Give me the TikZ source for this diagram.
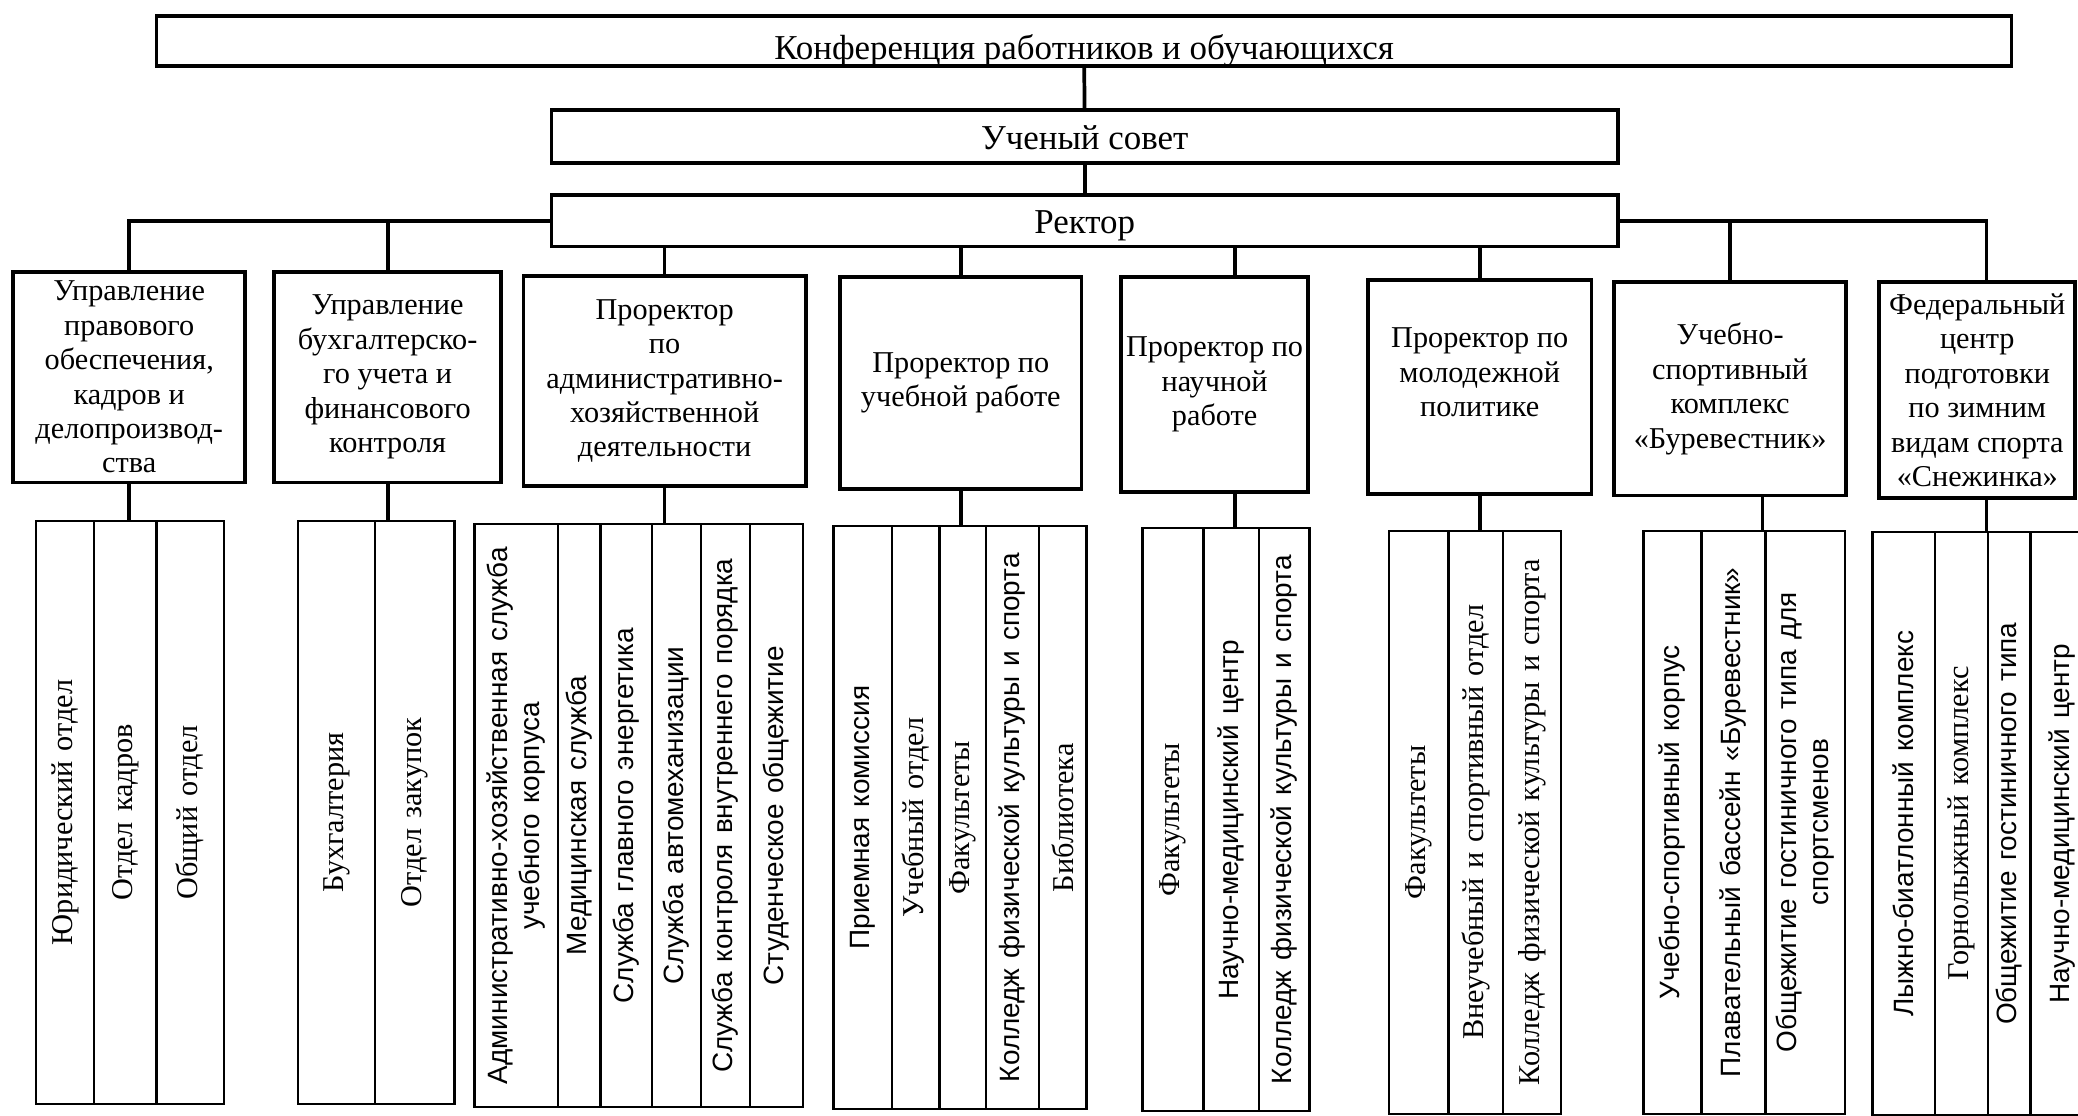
\documentclass[tikz,border=0pt]{standalone}
\usepackage{fontspec}
\setmainfont{Liberation Serif}
\setsansfont{Liberation Sans}
\newcommand{\colsf}{\sffamily\fontsize{12}{13.5}\selectfont}
\tikzset{orgbox/.style={draw, line width=1.6pt, inner sep=0pt, outer sep=0pt, align=center, font=\fontsize{13}{14.8}\selectfont},
headbox/.style={orgbox, minimum width=16.1cm, text height=0.4cm, text depth=0cm, font=\fontsize{15}{17}\selectfont},
col/.style={draw, line width=1.1pt, rotate=90, inner sep=1pt, outer sep=0pt, align=center, text width=8.4cm, minimum width=8.8cm, font=\fontsize{13}{14}\selectfont},
link/.style={line width=1.6pt}}

\begin{document}
\begin{tikzpicture}[x=0.02cm, y=-0.02cm]

\useasboundingbox (0,0) rectangle (1568,842);
\clip (0,0) rectangle (1568,842);

% верхний уровень
\node[headbox, minimum width=28cm, minimum height=0.76cm, text height=0.56cm] (konf) at (818,31) {Конференция работников и обучающихся};
\node[headbox, minimum height=0.8cm] (sovet) at (818.5,103) {Ученый совет};
\node[headbox, minimum height=0.78cm] (rektor) at (818.5,166.5) {Ректор};

% подчиненные руководителю
\node[orgbox, minimum width=3.5cm, minimum height=3.18cm] (b1) at (97.5,284.5) {Управление\\правового\\обеспечения,\\кадров и\\делопроизвод-\\ства};
\node[orgbox, minimum width=3.42cm, minimum height=3.18cm] (b2) at (292.5,284.5) {Управление\\бухгалтерско-\\го учета и\\финансового\\контроля};
\node[orgbox, minimum width=4.26cm, minimum height=3.18cm] (b3) at (501.5,287.5) {Проректор\\по\\административно-\\хозяйственной\\деятельности};
\node[orgbox, minimum width=3.64cm, minimum height=3.2cm] (b4) at (725,289) {Проректор по\\учебной работе};
\node[orgbox, minimum width=2.82cm, minimum height=3.24cm] (b5) at (916.5,290) {Проректор по\\научной\\работе};
\node[orgbox, minimum width=3.38cm, minimum height=3.24cm] (b6) at (1116.5,292) {Проректор по\\молодежной\\политике\\[-0.08cm]};
\node[orgbox, minimum width=3.5cm, minimum height=3.22cm] (b7) at (1305.5,293.5) {Учебно-\\спортивный\\комплекс\\«Буревестник»};
\node[orgbox, minimum width=2.96cm, minimum height=3.26cm] (b8) at (1492,294.5) {Федеральный\\центр\\подготовки\\по зимним\\видам спорта\\«Снежинка»};

% отделы
\foreach \nm/\xa/\xb/\txt in {a/27/71/{Юридический отдел},
    b/71/118/{Отдел кадров},
    c/118/169/{Общий отдел}}
  \node[col, minimum height=(\xb-\xa)*0.02cm] (g1\nm) at ({(\xa+\xb)/2},613) {\txt};

\foreach \nm/\xa/\xb/\txt in {a/225/283/{Бухгалтерия},
    b/283/343/{Отдел закупок}}
  \node[col, minimum height=(\xb-\xa)*0.02cm] (g2\nm) at ({(\xa+\xb)/2},613) {\txt};

\foreach \nm/\xa/\xb/\txt in {a/358/421/{\colsf Административно-хозяйственная служба\\учебного корпуса},
    b/421/453/{\colsf Медицинская служба},
    c/453/492/{\colsf Служба главного энергетика},
    d/492/529/{\colsf Служба автомеханизации},
    e/529/566/{\colsf Служба контроля внутреннего порядка},
    f/566/606/{\colsf Студенческое общежитие}}
  \node[col, minimum height=(\xb-\xa)*0.02cm] (g3\nm) at ({(\xa+\xb)/2},615.5) {\txt};

\foreach \nm/\xa/\xb/\txt in {a/629/673/{\colsf Приемная комиссия},
    b/673/709/{Учебный отдел},
    c/709/744/{Факультеты},
    d/744/784/{\colsf Колледж физической культуры и спорта},
    e/784/820/{Библиотека}}
  \node[col, minimum height=(\xb-\xa)*0.02cm] (g4\nm) at ({(\xa+\xb)/2},617) {\txt};

\foreach \nm/\xa/\xb/\txt in {a/862/908/{Факультеты},
    b/908/950/{\colsf Научно-медицинский центр},
    c/950/988/{\colsf Колледж физической культуры и спорта}}
  \node[col, minimum height=(\xb-\xa)*0.02cm] (g5\nm) at ({(\xa+\xb)/2},618.5) {\txt};

\foreach \nm/\xa/\xb/\txt in {a/1048/1093/{Факультеты},
    b/1093/1134/{Внеучебный и спортивный отдел},
    c/1134/1178/{Колледж физической культуры и спорта}}
  \node[col, minimum height=(\xb-\xa)*0.02cm] (g6\nm) at ({(\xa+\xb)/2},620.5) {\txt};

\foreach \nm/\xa/\xb/\txt in {a/1240/1284/{\colsf Учебно-спортивный корпус},
    b/1284/1332/{\colsf Плавательный бассейн «Буревестник»},
    c/1332/1392/{\colsf Общежитие гостиничного типа для\\спортсменов}}
  \node[col, minimum height=(\xb-\xa)*0.02cm] (g7\nm) at ({(\xa+\xb)/2},620.5) {\txt};

\foreach \nm/\xa/\xb/\txt in {a/1413/1460/{\colsf Лыжно-биатлонный комплекс},
    b/1460/1500/{Горнолыжный комплекс},
    c/1500/1532/{\colsf Общежитие гостиничного типа},
    d/1532/1580/{\colsf Научно-медицинский центр}}
  \node[col, minimum height=(\xb-\xa)*0.02cm] (g8\nm) at ({(\xa+\xb)/2},621.5) {\txt};

\coordinate (c5) at (932,0);
\coordinate (c7) at (1330,0);
\coordinate (c8) at (1499,0);

% связи
\draw[link] (konf) -- (sovet);
\draw[link] (sovet) -- (rektor);
\draw[link] (rektor.west) -| (b1.north);
\draw[link] (rektor.west -| b2.north) -- (b2.north);
\draw[link] (rektor.south -| b3.north) -- (b3.north);
\draw[link] (rektor.south -| b4.north) -- (b4.north);
\draw[link] (rektor.south -| c5) -- (b5.north -| c5);
\draw[link] (rektor.south -| b6.north) -- (b6.north);
\draw[link] (rektor.east) -| (b8.north -| c8);
\draw[link] (rektor.east -| b7.north) -- (b7.north);

\draw[link] (b1.south) -- (b1.south |- g1a.east);
\draw[link] (b2.south) -- (b2.south |- g2a.east);
\draw[link] (b3.south) -- (b3.south |- g3a.east);
\draw[link] (b4.south) -- (b4.south |- g4a.east);
\draw[link] (b5.south -| c5) -- (c5 |- g5a.east);
\draw[link] (b6.south) -- (b6.south |- g6a.east);
\draw[link] (b7.south -| c7) -- (c7 |- g7a.east);
\draw[link] (b8.south -| c8) -- (c8 |- g8a.east);

\end{tikzpicture}
\end{document}
